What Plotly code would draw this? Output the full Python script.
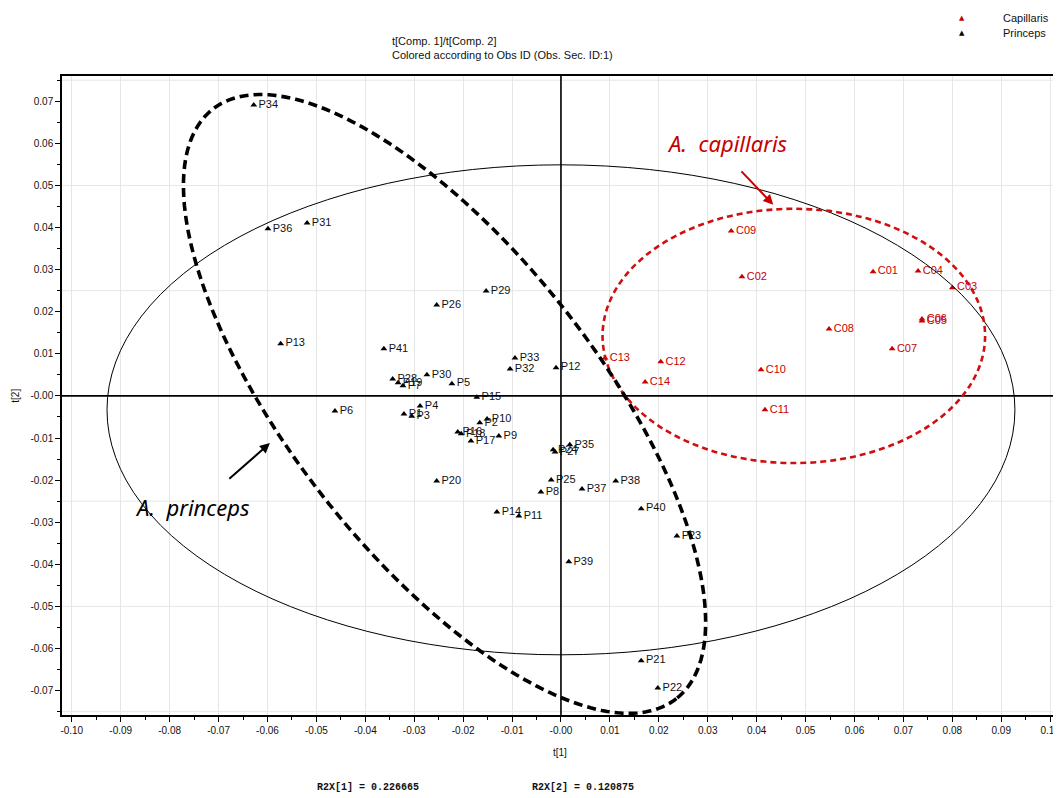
import numpy as np
import plotly.graph_objects as go

# ---------------- data ----------------
p_labels = ["P34", "P36", "P31", "P13", "P26", "P29", "P41", "P30", "P5", "P28", "P19", "P7",
            "P15", "P6", "P4", "P1", "P3", "P16", "P18", "P2", "P10", "P17", "P9", "P12",
            "P33", "P32", "P24", "P27", "P35", "P20", "P25", "P8", "P37", "P38", "P14",
            "P11", "P40", "P23", "P39", "P21", "P22"]
p_x = [-0.0628, -0.0599, -0.0519, -0.0573, -0.0254, -0.0153, -0.0362, -0.0274, -0.0223, -0.0344,
       -0.0333, -0.0323, -0.0172, -0.0462, -0.0288, -0.0321, -0.0305, -0.0211, -0.0204, -0.0166,
       -0.0151, -0.0184, -0.0127, -0.0010, -0.0094, -0.0104, -0.0016, -0.0012, 0.0018, -0.0254,
       -0.0020, -0.0041, 0.0043, 0.0112, -0.0131, -0.0086, 0.0164, 0.0237, 0.0016, 0.0164, 0.0198]
p_y = [0.0691, 0.0397, 0.0411, 0.0124, 0.0216, 0.0249, 0.0112, 0.0050, 0.0029, 0.0040,
       0.0031, 0.0024, -0.0003, -0.0036, -0.0024, -0.0043, -0.0048, -0.0086, -0.0090, -0.0064,
       -0.0055, -0.0107, -0.0095, 0.0067, 0.0090, 0.0064, -0.0128, -0.0133, -0.0116, -0.0202,
       -0.0200, -0.0228, -0.0221, -0.0202, -0.0276, -0.0285, -0.0268, -0.0333, -0.0394, -0.0629, -0.0694]

c_labels = ["C09", "C02", "C01", "C04", "C03", "C05", "C06", "C08", "C07", "C13", "C12", "C14", "C10", "C11"]
c_x = [0.0348, 0.0370, 0.0638, 0.0730, 0.0800, 0.0738, 0.0738, 0.0548, 0.0677, 0.0090, 0.0204, 0.0172, 0.0409, 0.0417]
c_y = [0.0392, 0.0283, 0.0295, 0.0297, 0.0257, 0.0178, 0.0183, 0.0159, 0.0112, 0.0090, 0.0081, 0.0033, 0.0062, -0.0033]

legend_names = ["Capillaris", "Princeps"]

x_tickvals = [round(-0.10 + 0.01 * i, 2) for i in range(21)]
x_ticktext = ["-0.10", "-0.09", "-0.08", "-0.07", "-0.06", "-0.05", "-0.04", "-0.03", "-0.02", "-0.01",
              "-0.00", "0.01", "0.02", "0.03", "0.04", "0.05", "0.06", "0.07", "0.08", "0.09", "0.10"]
y_tickvals = [round(-0.07 + 0.01 * i, 2) for i in range(15)]
y_ticktext = ["-0.07", "-0.06", "-0.05", "-0.04", "-0.03", "-0.02", "-0.01", "-0.00",
              "0.01", "0.02", "0.03", "0.04", "0.05", "0.06", "0.07"]

r2x_1 = 0.226665
r2x_2 = 0.120875

# ---------------- styles ----------------
RED = "#c80000"
FONT = "Liberation Sans, Arial, sans-serif"
X_RANGE = [-0.102, 0.1014]
Y_RANGE = [-0.0758, 0.076]

fig = go.Figure()

fig.add_trace(go.Scatter(
    x=c_x, y=c_y, text=c_labels, mode="markers+text", name=legend_names[0],
    textposition="middle right", textfont=dict(color=RED, size=11, family=FONT),
    marker=dict(symbol="triangle-up", size=6, color=RED),
    cliponaxis=False, showlegend=False))
fig.add_trace(go.Scatter(
    x=p_x, y=p_y, text=p_labels, mode="markers+text", name=legend_names[1],
    textposition="middle right", textfont=dict(color="#111111", size=11, family=FONT),
    marker=dict(symbol="triangle-up", size=6, color="#000000"),
    cliponaxis=False, showlegend=False))

shapes = []
# faint horizontal grid lines
for gy in [-0.075, -0.05, -0.025, 0.025, 0.05, 0.075]:
    shapes.append(dict(type="line", xref="x", yref="y", x0=X_RANGE[0], x1=X_RANGE[1], y0=gy, y1=gy,
                       line=dict(color="#e6e6e6", width=1), layer="below"))
# zero lines
shapes.append(dict(type="line", xref="x", yref="y", x0=X_RANGE[0], x1=X_RANGE[1], y0=0, y1=0,
                   line=dict(color="#000000", width=1.6)))
shapes.append(dict(type="line", xref="x", yref="y", x0=0, x1=0, y0=Y_RANGE[0], y1=Y_RANGE[1],
                   line=dict(color="#000000", width=1.6)))

# Hotelling T2 ellipse
t2_cx, t2_cy, t2_a, t2_b = 0.0, -0.0033, 0.0928, 0.0582
shapes.append(dict(type="circle", xref="x", yref="y", x0=t2_cx - t2_a, x1=t2_cx + t2_a,
                   y0=t2_cy - t2_b, y1=t2_cy + t2_b, line=dict(color="#000000", width=1)))

# A. capillaris group ellipse (red dashed)
cap_cx, cap_cy, cap_a, cap_b = 0.0476, 0.01425, 0.0391, 0.0302
shapes.append(dict(type="circle", xref="x", yref="y", x0=cap_cx - cap_a, x1=cap_cx + cap_a,
                   y0=cap_cy - cap_b, y1=cap_cy + cap_b,
                   line=dict(color="#d01010", width=2.6, dash="6px,4px")))

# A. princeps group ellipse (black dashed, rotated)
pr_c = (-0.0238, -0.0019)
pr_ax1 = (0.0474, -0.0700)
pr_ax2 = (-0.02454, -0.02242)
tt = np.linspace(0, 2 * np.pi, 240)
ex = pr_c[0] + np.cos(tt) * pr_ax1[0] + np.sin(tt) * pr_ax2[0]
ey = pr_c[1] + np.cos(tt) * pr_ax1[1] + np.sin(tt) * pr_ax2[1]
path = "M " + " L ".join(f"{a:.5f},{b:.5f}" for a, b in zip(ex, ey)) + " Z"
shapes.append(dict(type="path", xref="x", yref="y", path=path,
                   line=dict(color="#000000", width=3.6, dash="9px,5px")))

annotations = [
    dict(text="t[Comp. 1]/t[Comp. 2]<br>Colored according to Obs ID (Obs. Sec. ID:1)",
         xref="paper", yref="paper", x=0.33, y=1.068, xanchor="left", yanchor="top",
         align="left", showarrow=False, font=dict(family=FONT, size=11, color="#111111")),
    dict(text="t[1]", xref="paper", yref="paper", x=0.5, y=-0.058, xanchor="center", yanchor="middle",
         showarrow=False, font=dict(family=FONT, size=10, color="#111111")),
    dict(text="t[2]", xref="paper", yref="paper", x=-0.047, y=0.5, xanchor="center", yanchor="middle",
         textangle=-90, showarrow=False, font=dict(family=FONT, size=10, color="#111111")),
    dict(text=f"<b>R2X[1] = {r2x_1}</b>", xref="paper", yref="paper", x=0.254, y=-0.114,
         xanchor="left", yanchor="middle", showarrow=False,
         font=dict(family="Liberation Mono, Courier New, monospace", size=10, color="#111111")),
    dict(text=f"<b>R2X[2] = {r2x_2}</b>", xref="paper", yref="paper", x=0.47, y=-0.114,
         xanchor="left", yanchor="middle", showarrow=False,
         font=dict(family="Liberation Mono, Courier New, monospace", size=10, color="#111111")),
    # group labels
    dict(text="<i>A.  capillaris</i>", xref="x", yref="y", x=0.034, y=0.0601, showarrow=False,
         font=dict(family="Noto Sans, sans-serif", size=22, color=RED)),
    dict(text="", xref="x", yref="y", axref="x", ayref="y", x=0.0434, y=0.0454, ax=0.0366, ay=0.0537,
         showarrow=True, arrowhead=2, arrowsize=1, arrowwidth=2, arrowcolor=RED),
    dict(text="<i>A.  princeps</i>", xref="x", yref="y", x=-0.0753, y=-0.0264, showarrow=False,
         font=dict(family="Noto Sans, sans-serif", size=22, color="#000000")),
    dict(text="", xref="x", yref="y", axref="x", ayref="y", x=-0.0595, y=-0.0112, ax=-0.0681, ay=-0.0200,
         showarrow=True, arrowhead=2, arrowsize=1, arrowwidth=2, arrowcolor="#000000"),
]

# manual legend (top right)
leg_colors = [RED, "#000000"]
for i, (nm, col) in enumerate(zip(legend_names, leg_colors)):
    ly = 1.091 - i * 0.0235
    annotations.append(dict(text="▲", xref="paper", yref="paper", x=0.9045, y=ly,
                            xanchor="center", yanchor="middle", showarrow=False,
                            font=dict(family="DejaVu Sans", size=7, color=col)))
    annotations.append(dict(text=nm, xref="paper", yref="paper", x=0.944, y=ly,
                            xanchor="left", yanchor="middle", showarrow=False,
                            font=dict(family=FONT, size=11, color="#111111")))

fig.update_layout(
    width=1053, height=790,
    margin=dict(l=54, r=4, t=68, b=83, autoexpand=False),
    paper_bgcolor="white", plot_bgcolor="white",
    showlegend=False,
    shapes=shapes, annotations=annotations,
    font=dict(family=FONT),
)

fig.update_xaxes(range=X_RANGE, tickvals=x_tickvals, ticktext=x_ticktext, showgrid=True,
                 gridcolor="#e6e6e6", gridwidth=1, zeroline=False, showline=True, linecolor="#000000",
                 linewidth=1.5, mirror=True, ticks="outside", ticklen=5, tickcolor="#000000",
                 automargin=False,
                 tickfont=dict(family=FONT, size=10, color="#111111"),
                 minor=dict(dtick=0.005, ticks="outside", ticklen=3, tickcolor="#000000", showgrid=False))
fig.update_yaxes(range=Y_RANGE, tickvals=y_tickvals, ticktext=y_ticktext, showgrid=False,
                 zeroline=False, showline=True, linecolor="#000000",
                 linewidth=1.5, mirror=True, ticks="outside", ticklen=5, tickcolor="#000000",
                 automargin=False,
                 tickfont=dict(family=FONT, size=10, color="#111111"),
                 minor=dict(dtick=0.005, ticks="outside", ticklen=3, tickcolor="#000000", showgrid=False))

fig.write_html("out.html")
